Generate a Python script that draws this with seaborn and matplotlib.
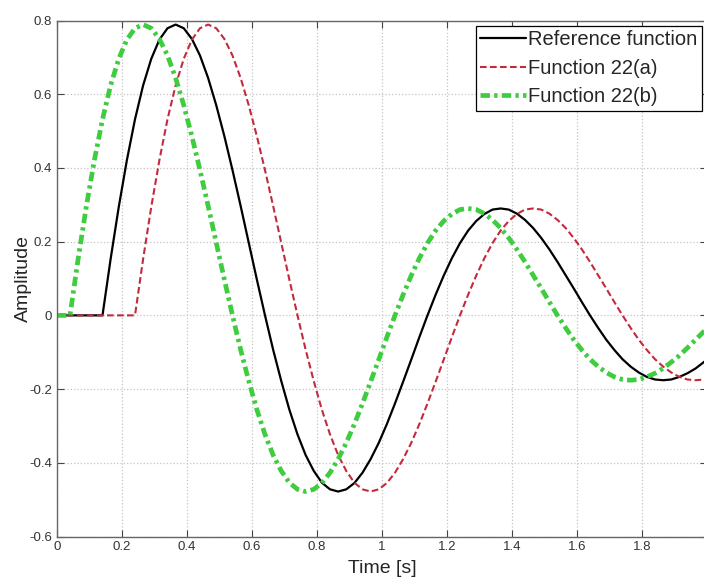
import matplotlib
matplotlib.use("Agg")
import matplotlib.pyplot as plt
import matplotlib.ticker as mticker
import seaborn as sns
import numpy as np
import pandas as pd

step = 0.025
amplitude = [0.000, 0.153, 0.294, 0.421, 0.532, 0.624, 0.696, 0.748, 0.779, 0.789,
             0.779, 0.750, 0.705, 0.644, 0.570, 0.486, 0.394, 0.297, 0.197, 0.097,
             0.000, -0.093, -0.178, -0.256, -0.323, -0.379, -0.422, -0.454, -0.472, -0.478,
             -0.472, -0.455, -0.427, -0.390, -0.346, -0.295, -0.239, -0.180, -0.120, -0.059,
             0.000, 0.056, 0.108, 0.155, 0.196, 0.230, 0.256, 0.275, 0.287, 0.290,
             0.287, 0.276, 0.259, 0.237, 0.210, 0.179, 0.145, 0.109, 0.073, 0.036,
             0.000, -0.034, -0.066, -0.094, -0.119, -0.139, -0.155, -0.167, -0.174, -0.176,
             -0.174, -0.167, -0.157, -0.144, -0.127, -0.109, -0.088, -0.066, -0.044, -0.022]

# onset time (s) of each signal, read from where it leaves zero
names = ["Reference function", "Function 22(a)", "Function 22(b)"]
onsets = [0.14, 0.24, 0.04]

x_ticks = [0, 0.2, 0.4, 0.6, 0.8, 1.0, 1.2, 1.4, 1.6, 1.8, 2.0]
x_labels = ["0", "0.2", "0.4", "0.6", "0.8", "1", "1.2", "1.4", "1.6", "1.8", ""]
y_ticks = [-0.6, -0.4, -0.2, 0, 0.2, 0.4, 0.6, 0.8]


def build_signal(name, onset):
    t = [0.0] + [onset + i * step for i in range(len(amplitude))]
    y = [0.0] + amplitude
    return pd.DataFrame({"Time": t, "Amplitude": y, "Signal": name})


sns.set_theme(style="ticks")
plt.rcParams["font.family"] = ["Liberation Sans", "DejaVu Sans"]
plt.rcParams["axes.unicode_minus"] = False

fig = plt.figure(figsize=(7.04, 5.82), dpi=100)
ax = fig.add_axes([57 / 704, 45.5 / 582, 650 / 704, 516 / 582])

styles = {
    "Reference function": dict(color="black", lw=1.6, linestyle="-"),
    "Function 22(a)": dict(color="#c42a3c", lw=1.5, linestyle=(0, (3.2, 1.6))),
    "Function 22(b)": dict(color="#3fcc3f", lw=3.4, linestyle=(0, (2.0, 0.9, 0.7, 0.9))),
}

for name, onset in zip(names, onsets):
    df = build_signal(name, onset)
    sns.lineplot(data=df, x="Time", y="Amplitude", ax=ax, label=name,
                 sort=False, estimator=None, **styles[name])

ax.set_xlim(0, 2)
ax.set_ylim(-0.6, 0.8)
ax.set_xticks(x_ticks)
ax.set_xticklabels(x_labels)
ax.set_yticks(y_ticks)
ax.yaxis.set_major_formatter(mticker.FuncFormatter(lambda v, p: "%g" % round(v, 2)))
ax.tick_params(direction="in", length=5, width=0.8, colors="#444444",
               labelsize=9.5, labelcolor="#333333", top=True, right=True)
ax.grid(True, linestyle=":", color="#c4c4c4", linewidth=0.9)
for s in ax.spines.values():
    s.set_color("#666666")
    s.set_linewidth(1.0)

ax.set_xlabel("Time [s]", fontsize=14, va="center")
ax.set_ylabel("Amplitude", fontsize=14, va="center")
ax.xaxis.set_label_coords(0.5, -0.062)
ax.yaxis.set_label_coords(-0.052, 0.5)

leg = ax.legend(loc="upper right", fontsize=14.5, frameon=True, fancybox=False,
                edgecolor="black", framealpha=1, borderaxespad=0.25,
                handlelength=2.3, handletextpad=0.1, labelspacing=0.48,
                borderpad=0.22)
leg.get_frame().set_linewidth(0.9)

fig.savefig("out.png", dpi=100)
plt.close(fig)
